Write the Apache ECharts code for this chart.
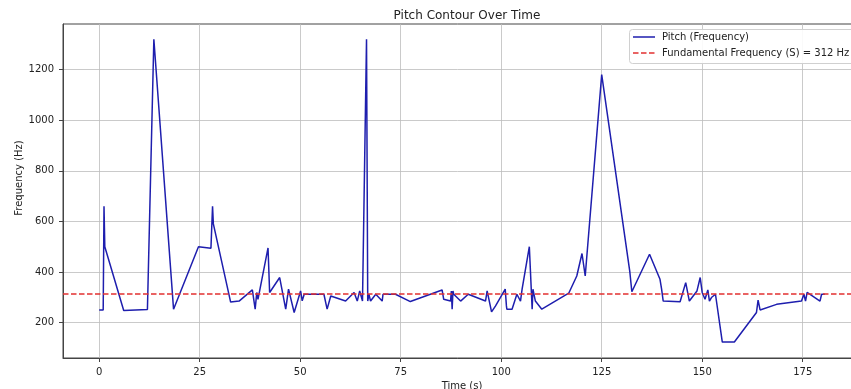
<!DOCTYPE html>
<html>
<head>
<meta charset="utf-8">
<script src="https://cdn.jsdelivr.net/npm/echarts@6/dist/echarts.min.js"></script>
<style>
html,body{margin:0;padding:0;background:#fff;}
#c{width:851px;height:389px;}
</style>
</head>
<body>
<div id="c"></div>
<script>
var times = [0,1.0,1.2,1.4,6.1,12.0,13.6,18.5,24.7,27.8,28.2,28.4,32.7,34.8,38.1,38.5,38.8,39.2,39.5,42.0,42.4,44.9,46.4,47.1,48.5,50.1,50.5,51.0,55.9,56.7,57.6,58.0,61.3,63.4,64.2,64.8,65.5,66.5,66.8,67.1,67.5,68.8,70.4,70.6,73.7,77.4,85.3,85.7,86.0,87.4,87.6,87.8,88.0,88.2,89.9,91.8,96.1,96.5,97.6,98.6,101.0,101.3,101.4,102.7,103.9,104.8,105.2,107.0,107.7,107.9,108.5,110.1,116.8,118.8,119.1,120.1,120.9,125.0,132.0,132.5,136.9,139.5,139.8,139.9,140.3,144.5,145.9,146.8,148.7,149.5,150.0,150.7,151.4,151.8,152.3,153.3,155.0,158.0,163.5,163.9,164.4,168.5,174.7,175.3,175.7,176.1,179.3,179.7,180.5];
var pitch = [250,250,660,500,248,252,1320,253,500,494,660,590,281,285,329,332,253,319,292,495,319,378,253,332,240,325,286,312,312,253,305,312,285,319,285,325,285,1320,285,312,285,312,285,312,312,283,329,292,285,285,325,253,325,312,285,312,285,325,242,266,332,266,253,253,312,285,332,500,253,332,285,253,316,384,391,473,384,1180,400,322,470,371,378,332,285,282,358,285,325,378,319,292,329,285,299,312,123,123,240,289,250,272,285,312,285,319,285,312,312];
var fundamental = 312;
var xTicks = [0,25,50,75,100,125,150,175];
var yTicks = [200,400,600,800,1000,1200];
var pitchName = 'Pitch (Frequency)';
var fundName = 'Fundamental Frequency (S) = 312 Hz';

var blue = '#1e1eae';
var red = '#e23030';
var font = 'DejaVu Sans';
var chart = echarts.init(document.getElementById('c'), null, {renderer:'canvas'});
var data = times.map(function(t,i){return [t, pitch[i]];});
chart.setOption({
  animation:false,
  backgroundColor:'#fff',
  title:{text:'Pitch Contour Over Time', left:462, textAlign:'center', top:5,
    textStyle:{fontFamily:font, fontSize:12, fontWeight:'normal', color:'#222'}},
  grid:{left:63, top:24, width:798, height:334, containLabel:false, outerBoundsMode:'none',
    show:true, borderColor:'#444', borderWidth:1, backgroundColor:'transparent'},
  xAxis:{type:'value', min:-9, max:189.5,
    name:'Time (s)', nameLocation:'middle', nameGap:22,
    nameTextStyle:{fontFamily:font, fontSize:10, color:'#222'},
    axisLine:{show:true, onZero:false, lineStyle:{color:'#444'}},
    axisTick:{show:true, length:4, customValues:xTicks, lineStyle:{color:'#444'}},
    axisLabel:{customValues:xTicks, fontFamily:font, fontSize:10, color:'#222', margin:9,
      formatter:function(v){return String(v);}},
    splitLine:{show:true, lineStyle:{color:'#bdbdbd', width:0.8}}
  },
  yAxis:{type:'value', min:60, max:1380,
    axisLine:{show:true, onZero:false, lineStyle:{color:'#444'}},
    axisTick:{show:true, length:4, customValues:yTicks, lineStyle:{color:'#444'}},
    axisLabel:{customValues:yTicks, fontFamily:font, fontSize:10, color:'#222', margin:9,
      formatter:function(v){return String(v);}},
    splitLine:{show:true, lineStyle:{color:'#bdbdbd', width:0.8}}
  },
  graphic:[
    {type:'text', x:19, y:178, rotation:Math.PI/2, z:101,
      style:{text:'Frequency (Hz)', fontFamily:font, fontSize:10, fill:'#222', align:'center', verticalAlign:'middle'}},
    {type:'rect', shape:{x:629.5, y:29.5, width:240, height:34, r:3}, z:100,
      style:{fill:'rgba(255,255,255,0.9)', stroke:'#d0d0d0', lineWidth:1}},
    {type:'line', shape:{x1:633, y1:37, x2:655, y2:37}, z:101, style:{stroke:blue, lineWidth:1.5}},
    {type:'line', shape:{x1:633, y1:53, x2:655, y2:53}, z:101, style:{stroke:red, lineWidth:1.5, lineDash:[5.5,2.5]}},
    {type:'text', x:662, y:37, z:101, style:{text:pitchName, fontFamily:font, fontSize:10, fill:'#222', verticalAlign:'middle'}},
    {type:'text', x:662, y:53, z:101, style:{text:fundName, fontFamily:font, fontSize:10, fill:'#222', verticalAlign:'middle'}}
  ],
  series:[
    {name:pitchName, type:'line', data:data, showSymbol:false, symbol:'none',
      lineStyle:{color:blue, width:1.5}, itemStyle:{color:blue}, z:3},
    {name:fundName, type:'line', data:[], symbol:'none',
      lineStyle:{color:red, width:1.5, type:[5.5,2.5]}, itemStyle:{color:red},
      markLine:{silent:true, symbol:['none','none'], label:{show:false},
        lineStyle:{color:red, width:1.5, type:[5.5,2.5]},
        data:[{yAxis:fundamental}]}, z:4}
  ]
});
</script>
</body>
</html>
